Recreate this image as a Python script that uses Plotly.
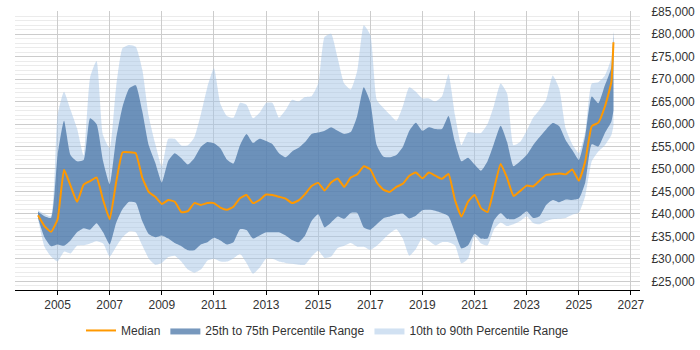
import plotly.graph_objects as go

dates = [
    "2004-04-01", "2004-07-01", "2004-10-01",
    "2005-01-01", "2005-04-01", "2005-07-01", "2005-10-01",
    "2006-01-01", "2006-04-01", "2006-07-01", "2006-10-01",
    "2007-01-01", "2007-04-01", "2007-07-01", "2007-10-01",
    "2008-01-01", "2008-04-01", "2008-07-01", "2008-10-01",
    "2009-01-01", "2009-04-01", "2009-07-01", "2009-10-01",
    "2010-01-01", "2010-04-01", "2010-07-01", "2010-10-01",
    "2011-01-01", "2011-04-01", "2011-07-01", "2011-10-01",
    "2012-01-01", "2012-04-01", "2012-07-01", "2012-10-01",
    "2013-01-01", "2013-04-01", "2013-07-01", "2013-10-01",
    "2014-01-01", "2014-04-01", "2014-07-01", "2014-10-01",
    "2015-01-01", "2015-04-01", "2015-07-01", "2015-10-01",
    "2016-01-01", "2016-04-01", "2016-07-01", "2016-10-01",
    "2017-01-01", "2017-04-01", "2017-07-01", "2017-10-01",
    "2018-01-01", "2018-04-01", "2018-07-01", "2018-10-01",
    "2019-01-01", "2019-04-01", "2019-07-01", "2019-10-01",
    "2020-01-01", "2020-04-01", "2020-07-01", "2020-10-01",
    "2021-01-01", "2021-04-01", "2021-07-01", "2021-10-01",
    "2022-01-01", "2022-04-01", "2022-07-01", "2022-10-01",
    "2023-01-01", "2023-04-01", "2023-07-01", "2023-10-01",
    "2024-01-01", "2024-04-01", "2024-07-01", "2024-10-01",
    "2025-01-01", "2025-04-01", "2025-07-01", "2025-10-01",
    "2026-01-01", "2026-04-01", "2026-05-01",
]

median = [
    39700, 37300, 36000, 38800, 49800, 46300, 42700, 46500, 47300, 48100, 43100, 38800, 47000, 53700,
    53700, 53500, 48100, 44900, 43800, 42200, 43100, 42700, 40400, 40600, 42400, 42000, 42400, 42400, 41400,
    40900, 41600, 43500, 44200, 42400, 43100, 44300, 44200, 43800, 43400, 42400, 43000, 44400, 46200, 46900,
    45200, 47000, 47900, 46000, 48100, 48800, 50600, 49900,
    47000, 45400, 44900, 46000, 46700, 48500, 49200, 47900, 49200, 48500, 47800, 48900, 43100, 39400, 42700,
    44200, 41300, 40400, 45600, 51100, 48000, 44000, 45100, 46300, 46100, 47400, 48700, 48800, 49000, 48800,
    49900, 47400, 51700, 59500, 60300, 63900, 69300, 78200,
]

p75 = [
    40500, 39500, 39100, 53100, 60700, 53100, 51700, 52000, 61300, 60000, 51700, 46600, 56700, 63900,
    67900, 68600, 62900, 55300, 51400, 47000, 51800, 53500, 52400, 51000, 52400, 54900, 56000, 55700, 54600,
    52100, 51200, 55300, 57800, 55800, 56700, 56200, 55500, 53500, 52600, 53900, 54700, 56000, 57800, 58100,
    58500, 59300, 58500, 57800, 58200, 61800, 68200, 64800,
    55300, 52800, 52600, 53100, 54900, 58500, 60300, 58500, 59300, 58900, 58900, 61800, 56000, 51700, 52500,
    51000, 49600, 51700, 55700, 59600, 56000, 50600, 51700, 53100, 55300, 57100, 58800, 60200, 59500, 56400,
    54200, 52000, 57400, 66100, 64600, 68600, 72600, 80500,
]

p25 = [
    39100, 34800, 32800, 33200, 32900, 34100, 35900, 36800, 36500, 37900, 35900, 33200, 38000, 41100,
    42700, 42500, 38400, 35500, 34800, 35200, 34500, 33500, 32800, 31900, 31900, 33200, 33700, 34700, 34100,
    33200, 33700, 36600, 36400, 34500, 35200, 35900, 35900, 35900, 35200, 34200, 33700, 35200, 38400, 39900,
    37000, 38100, 39400, 38900, 40200, 40200, 37000, 36500,
    37700, 39000, 39400, 39900, 40100, 39000, 39600, 40800, 40900, 40700, 40200, 39500, 35900, 32300, 33000,
    35600, 34500, 34500, 38600, 40200, 38900, 38800, 39500, 40600, 39100, 39500, 42000, 43100, 42600, 43200,
    43100, 43400, 47000, 55500, 55000, 58000, 60500, 63000,
]

p90 = [
    40800, 40000, 39500, 62000, 67200, 63200, 59000, 53000, 70300, 74000, 57500, 54600, 68200, 76900,
    77600, 77200, 72200, 61800, 55600, 50500, 56700, 56700, 55200, 55300, 57000, 62100, 68200, 72400, 64500,
    61800, 61400, 64700, 64300, 61300, 62500, 64700, 64700, 61400, 63100, 65400, 65000, 66000, 66200, 69000,
    79400, 80100, 74700, 69000, 67700, 71800, 82000, 79800,
    65400, 63600, 62100, 60700, 63900, 68200, 67200, 65700, 65700, 65000, 66100, 71100, 62000, 55300, 58200,
    58000, 58000, 60000, 64200, 69000, 66800, 55300, 56000, 58500, 61400, 63200, 65400, 70800, 67900, 59000,
    55500, 53500, 58200, 69000, 69300, 70800, 74700, 80800,
]

p10 = [
    39000, 32700, 30500, 29400, 31600, 31200, 32900, 33000, 33400, 33900, 33400, 30500, 32700, 34800,
    36100, 35900, 33000, 30100, 28700, 29100, 30400, 30700, 29400, 27600, 26900, 27600, 29600, 30000, 29400,
    29400, 30100, 31100, 29100, 26700, 28000, 30000, 30000, 29400, 29100, 28900, 28700, 28700, 30500, 31800,
    30200, 30500, 32400, 32900, 33500, 32700, 32700, 32000,
    32900, 34300, 35700, 36600, 34500, 30700, 32200, 34700, 34000, 33000, 33700, 33700, 33000, 29000, 30000,
    35000, 33400, 33000, 36600, 38100, 37300, 37700, 38400, 39500, 38000, 37700, 38400, 38800, 38900, 39100,
    39800, 40300, 44000, 51700, 53900, 55300, 57500, 59600,
]

LIGHT = "rgba(163,196,229,0.5)"
DARK = "rgba(74,118,167,0.75)"
ORANGE = "#FF9900"
SM = 0.5

fig = go.Figure()
fig.add_trace(go.Scatter(x=dates, y=p10, mode="lines",
                         line=dict(width=0, color=LIGHT, shape="spline", smoothing=SM),
                         showlegend=False, hoverinfo="skip"))
fig.add_trace(go.Scatter(x=dates, y=p90, mode="lines",
                         line=dict(width=0, color=LIGHT, shape="spline", smoothing=SM),
                         fill="tonexty", fillcolor=LIGHT, name="10th to 90th Percentile Range",
                         hoverinfo="skip"))
fig.add_trace(go.Scatter(x=dates, y=p25, mode="lines",
                         line=dict(width=0, color=DARK, shape="spline", smoothing=SM),
                         showlegend=False, hoverinfo="skip"))
fig.add_trace(go.Scatter(x=dates, y=p75, mode="lines",
                         line=dict(width=0, color=DARK, shape="spline", smoothing=SM),
                         fill="tonexty", fillcolor=DARK, name="25th to 75th Percentile Range",
                         hoverinfo="skip"))
fig.add_trace(go.Scatter(x=dates, y=median, mode="lines",
                         line=dict(width=2, color=ORANGE, shape="spline", smoothing=0.4),
                         name="Median"))

fig.update_layout(
    width=700, height=350,
    margin=dict(l=15, r=57, t=5, b=57),
    paper_bgcolor="white", plot_bgcolor="white",
    font=dict(family="Arial, Liberation Sans, sans-serif", size=12, color="#333"),
    showlegend=True,
    legend=dict(orientation="h", x=0.5, xanchor="center", y=-0.145, yanchor="middle",
                traceorder="reversed", font=dict(size=12), itemwidth=30),
    xaxis=dict(
        type="date", range=["2003-05-15", "2027-05-08"],
        tick0="2005-01-01", dtick="M24", tickformat="%Y",
        showgrid=True, gridcolor="#cccccc", gridwidth=1,
        showline=True, linecolor="black", linewidth=1,
        ticks="outside", ticklen=4, tickcolor="black",
        zeroline=False,
    ),
    yaxis=dict(
        side="right", range=[23065, 85150],
        tick0=25000, dtick=5000, tickprefix="£", tickformat=",d",
        showgrid=True, gridcolor="#cccccc", gridwidth=1,
        minor=dict(dtick=1000, tick0=25000, showgrid=True, gridcolor="#ebebeb", gridwidth=1),
        ticks="outside", ticklen=8, tickcolor="rgba(0,0,0,0)",
        ticklabeloverflow="allow",
        showline=False, zeroline=False,
    ),
)

fig.write_html("out.html")
